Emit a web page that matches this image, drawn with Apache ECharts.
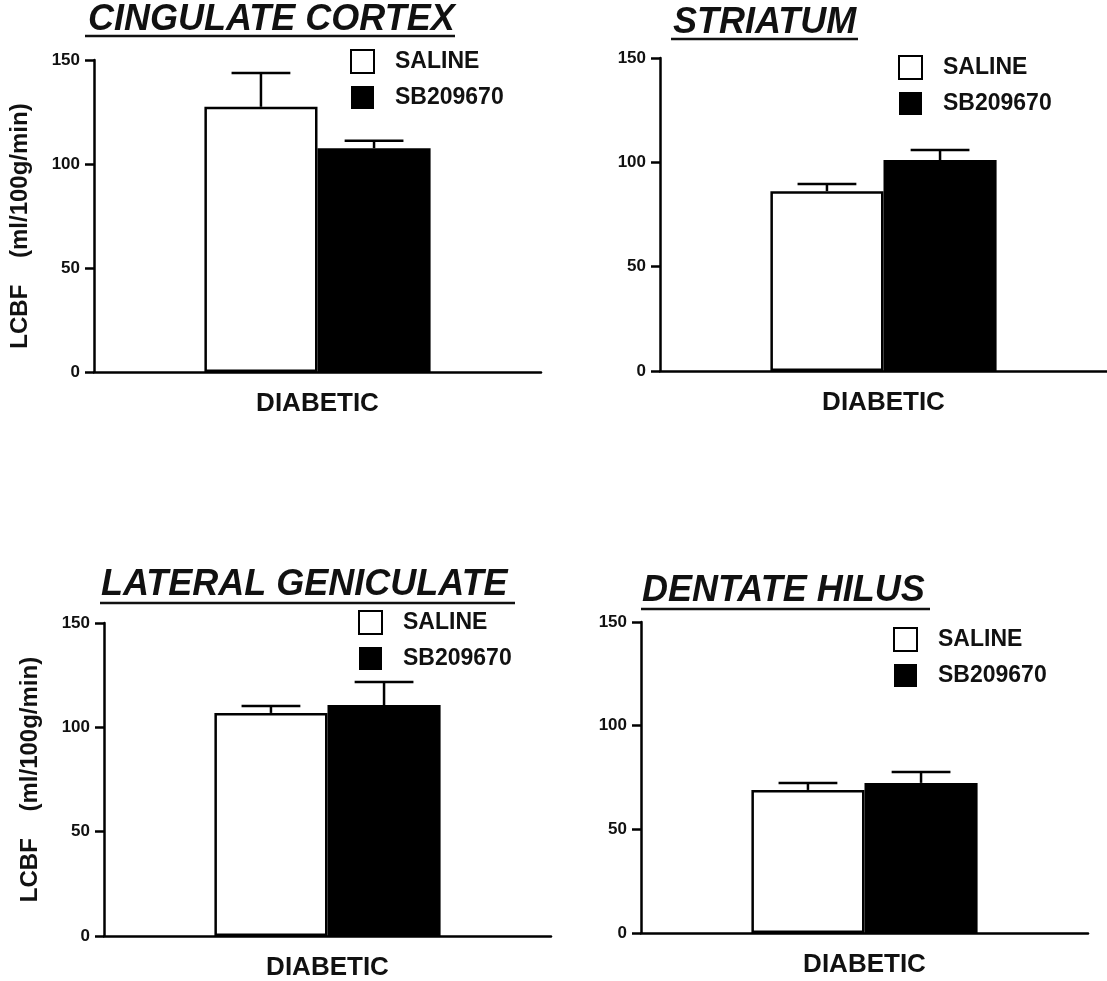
<!DOCTYPE html>
<html>
<head>
<meta charset="utf-8">
<script src="https://cdn.jsdelivr.net/npm/echarts@6/dist/echarts.min.js"></script>
<style>
html,body{margin:0;padding:0;background:#fff;}
#c{width:1107px;height:981px;}
</style>
</head>
<body>
<div id="c"></div>
<script>
// ---- data ----
const categories = ['DIABETIC'];
const regions = ['CINGULATE CORTEX', 'STRIATUM', 'LATERAL GENICULATE', 'DENTATE HILUS'];
const seriesNames = ['SALINE', 'SB209670'];
const salineMean = [127.5, 86.2, 106.9, 69.0];
const salineSEM  = [16.2, 3.4, 3.3, 3.4];
const sbMean     = [107.6, 101.1, 110.7, 72.4];
const sbSEM      = [3.6, 4.8, 11.0, 5.3];
const yTicks = [0, 50, 100, 150];
const yAxisName = 'LCBF    (ml/100g/min)';

// ---- layout / style ----
const FONT = '"Liberation Sans", Arial, Helvetica, sans-serif';
const INK = '#111';
const LW = 2.5;
const BAR_FRAC = 0.253;
const CAP_FRAC = 0.52;
const grids = [
  {left: 94,  top: 60,  width: 447, height: 312},
  {left: 660, top: 58,  width: 447, height: 313},
  {left: 104, top: 623, width: 447, height: 313},
  {left: 641, top: 622, width: 447, height: 311}
];
const legendPos = [
  {left: 350, top: 49},
  {left: 898, top: 55},
  {left: 358, top: 610},
  {left: 893, top: 627}
];
const titlePos = [
  {x: 88,  y: 20,  ux1: 85,  ux2: 455, uy: 36},
  {x: 673, y: 23,  ux1: 671, ux2: 858, uy: 39},
  {x: 101, y: 585, ux1: 100, ux2: 515, uy: 603},
  {x: 642, y: 591, ux1: 641, ux2: 930, uy: 609}
];
const showYName = [true, false, true, false];
const yNamePad = [[0, 20, 0, 0], [0, 0, 0, 0], [0, 0, 0, 0], [0, 0, 0, 0]];

function errRender(params, api) {
  const cat = api.value(0), mean = api.value(1), err = api.value(2), side = api.value(3);
  const base = api.coord([cat, mean]);
  const top = api.coord([cat, mean + err]);
  const band = api.size([1, 0])[0];
  const barW = band * BAR_FRAC;
  const cx = base[0] + side * barW / 2;
  const capW = barW * CAP_FRAC;
  const st = {stroke: '#000', lineWidth: LW};
  return {type: 'group', children: [
    {type: 'line', shape: {x1: cx, y1: base[1], x2: cx, y2: top[1]}, style: st},
    {type: 'line', shape: {x1: cx - capW / 2, y1: top[1], x2: cx + capW / 2, y2: top[1]}, style: st}
  ]};
}

const option = {
  backgroundColor: '#fff',
  animation: false,
  grid: grids.map(g => Object.assign({containLabel: false, outerBoundsMode: 'none'}, g)),
  xAxis: grids.map((g, i) => ({
    type: 'category', gridIndex: i, data: categories,
    axisLine: {lineStyle: {color: '#000', width: LW}},
    axisTick: {show: false},
    axisLabel: {color: INK, fontFamily: FONT, fontWeight: 'bold', fontSize: 26, margin: 19}
  })),
  yAxis: grids.map((g, i) => ({
    type: 'value', gridIndex: i, min: yTicks[0], max: yTicks[yTicks.length - 1], interval: yTicks[1] - yTicks[0],
    splitLine: {show: false},
    axisLine: {show: true, lineStyle: {color: '#000', width: LW}},
    axisTick: {show: true, length: 9, lineStyle: {color: '#000', width: LW}},
    axisLabel: {color: INK, fontFamily: FONT, fontWeight: 'bold', fontSize: 17, margin: 14},
    name: showYName[i] ? yAxisName : '',
    nameLocation: 'middle', nameRotate: 90, nameGap: 62,
    nameTextStyle: {color: INK, fontFamily: FONT, fontWeight: 'bold', fontSize: 24, padding: yNamePad[i]}
  })),
  legend: legendPos.map(p => ({
    left: p.left, top: p.top, orient: 'vertical', padding: 0,
    icon: 'rect',
    itemWidth: 23, itemHeight: 23, itemGap: 12,
    data: seriesNames,
    textStyle: {color: INK, fontFamily: FONT, fontWeight: 'bold', fontSize: 23, lineHeight: 23, padding: [0, 0, 0, 16]}
  })),
  graphic: regions.map((r, i) => ({
    type: 'group', children: [
      {type: 'text', x: titlePos[i].x, y: titlePos[i].y,
        style: {text: r, fill: INK, font: 'italic bold 36px ' + FONT, textVerticalAlign: 'middle', verticalAlign: 'middle'}},
      {type: 'rect', shape: {x: titlePos[i].ux1, y: titlePos[i].uy - 1.25, width: titlePos[i].ux2 - titlePos[i].ux1, height: 2.5},
        style: {fill: INK}}
    ]
  })),
  series: []
};

regions.forEach((r, i) => {
  option.series.push({
    name: seriesNames[0], type: 'bar', xAxisIndex: i, yAxisIndex: i,
    barWidth: (BAR_FRAC * 100) + '%', barGap: '0%',
    itemStyle: {color: '#fff', borderColor: '#000', borderWidth: LW},
    data: [salineMean[i]]
  });
  option.series.push({
    name: seriesNames[1], type: 'bar', xAxisIndex: i, yAxisIndex: i,
    barWidth: (BAR_FRAC * 100) + '%', barGap: '0%',
    itemStyle: {color: '#000', borderColor: '#000', borderWidth: 0},
    data: [sbMean[i]]
  });
  option.series.push({
    type: 'custom', xAxisIndex: i, yAxisIndex: i, renderItem: errRender, z: 5,
    data: [[0, salineMean[i], salineSEM[i], -1], [0, sbMean[i], sbSEM[i], 1]]
  });
});

const chart = echarts.init(document.getElementById('c'), null, {renderer: 'canvas'});
chart.setOption(option);
</script>
</body>
</html>
